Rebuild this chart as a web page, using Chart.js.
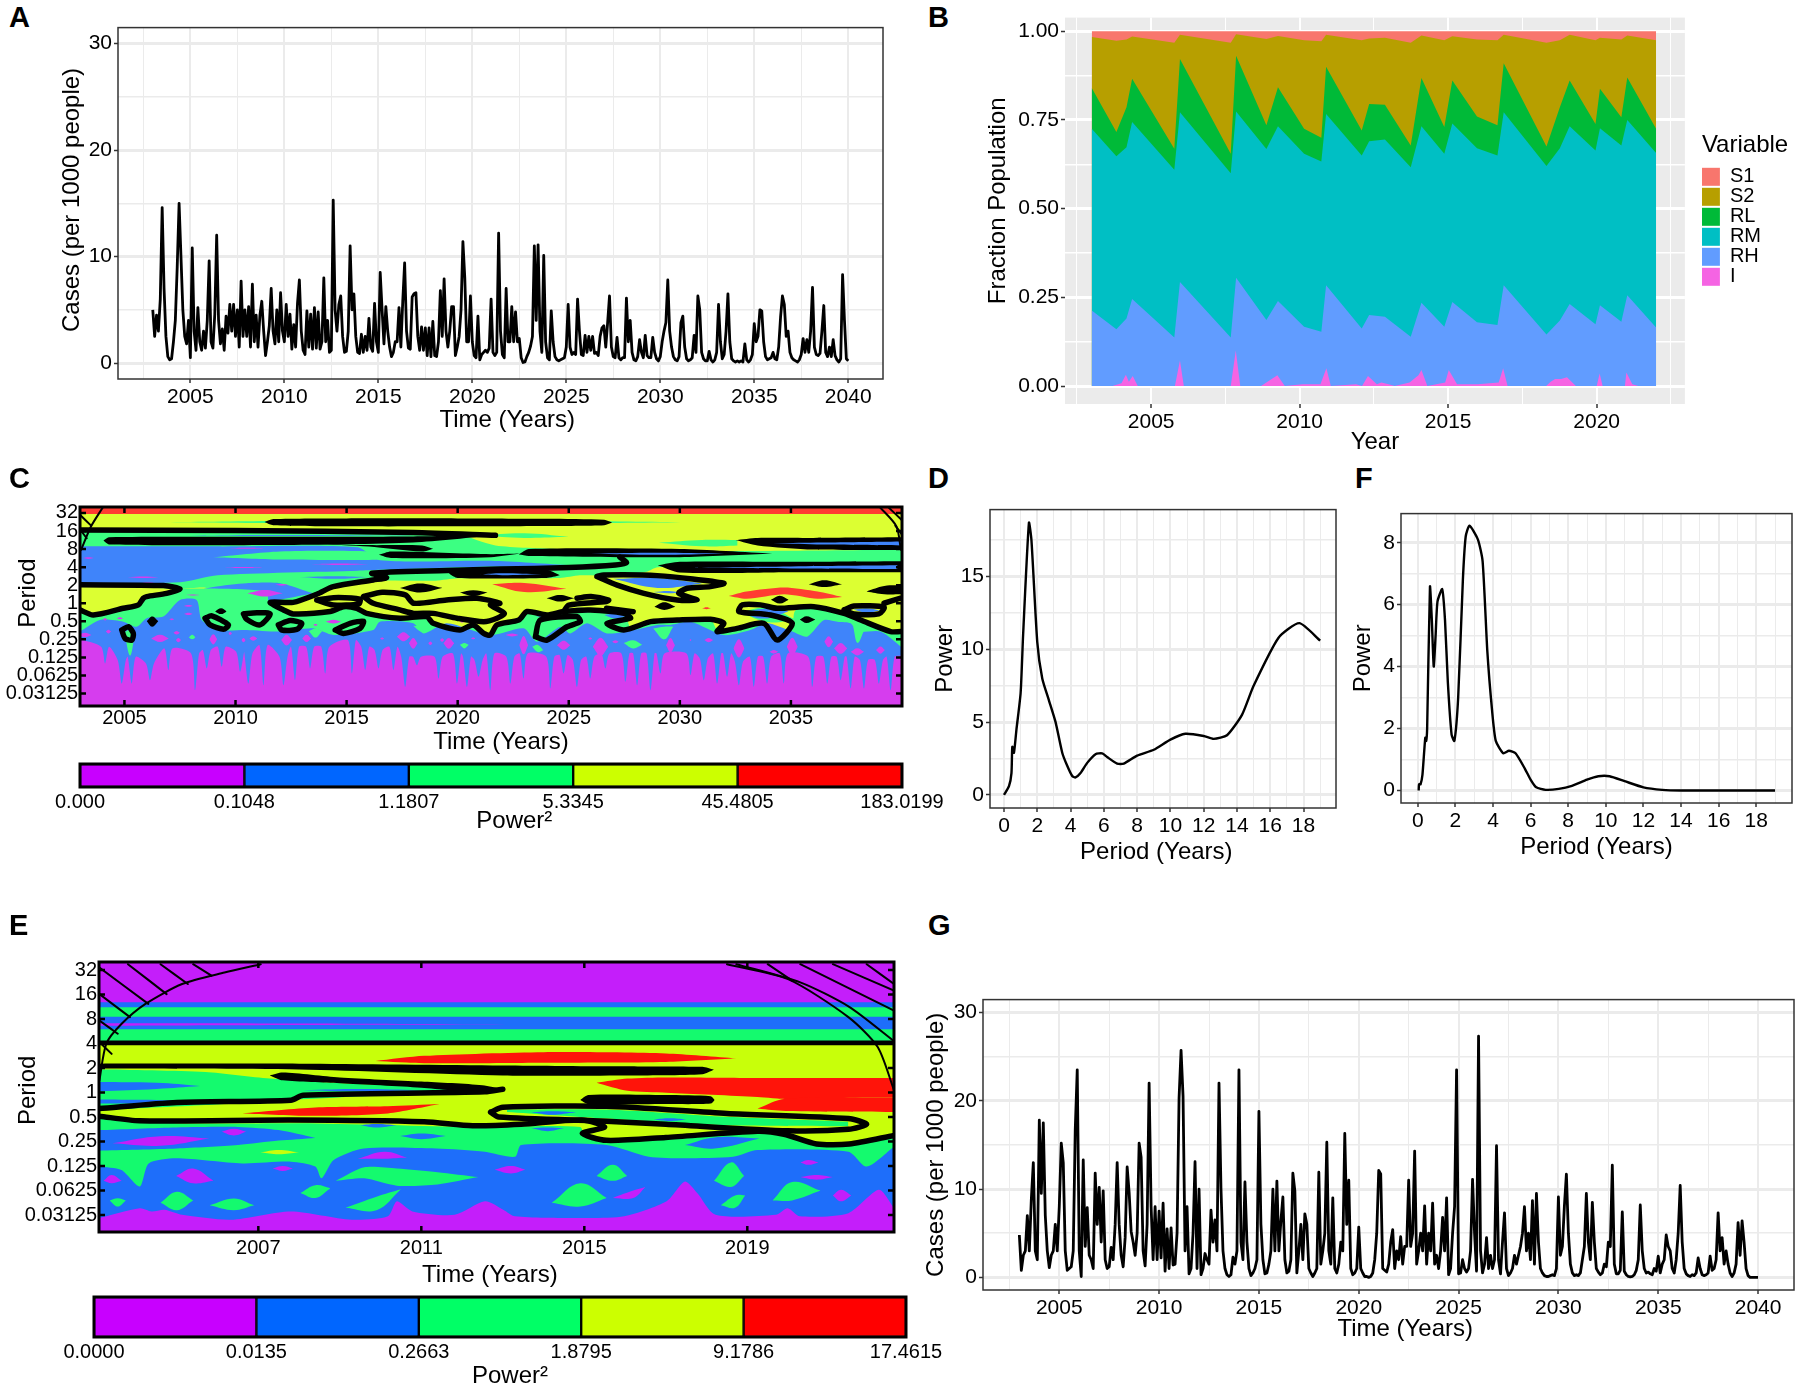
<!DOCTYPE html>
<html>
<head>
<meta charset="utf-8">
<title>Cases and wavelet power</title>
<script src="https://cdn.jsdelivr.net/npm/chart.js@4/dist/chart.umd.js"></script>
<style>
  html, body { margin: 0; background: #fff; width: 1800px; height: 1387px; overflow: hidden; }
  canvas { position: absolute; }
  .tag { position: absolute; font: 700 29px "Liberation Sans", sans-serif; line-height: 30px; color: #000; }
</style>
</head>
<body>
<script>
// one row per year, samples every 0.1 year
const casesA = [
  [5,2.5,4.5,3,6,14.6,7,2.5,.6,.3],
  [.4,2,4,9,15,10,5,2.5,1.8,4],
  [.5,10.8,3,1.2,5.2,2,1.2,3,1.4,4],
  [9.6,2,1.4,4.6,12,4,1.8,3.2,1.2,4.4],
  [2.8,5.5,3,5.5,2.5,5,1.5,7.7,2.5,5],
  [2.5,5.3,1.5,7.4,2,4.5,1.5,4.5,5.8,3],
  [.7,2,3.5,7,3,1.8,5,2,6.6,3],
  [2,5.5,2.5,4.6,1.3,3.6,1.5,5.6,7.8,3],
  [1.2,.8,4.9,1.5,4.6,1.3,5.2,1.4,4.8,1.3],
  [2,8,2,4,1,1.2,15.3,5,3,5.5],
  [6.3,2.5,1,1.1,3,11,5,6.5,2.5,1],
  [.9,2.7,1,2.5,1.2,4.2,1.5,1.1,5.6,2],
  [1,8.5,5,1.8,5.3,3,1.5,.6,1,2],
  [2,5.2,1.5,5.8,9.4,3,1.4,1.3,6.2,6.5],
  [6.6,2.5,1.2,3.4,1.2,3.3,.7,3.3,.6,3.9],
  [.7,.6,2,6.8,2.5,7.9,3,1.5,3,5.3],
  [5.3,.7,1.5,2.5,5,11.4,8,2,2,6.3],
  [2,.7,.5,4.4,.3,.8,1,1.2,1,1.4],
  [6,1,.7,1,12.2,3,.8,.5,7,2],
  [2,5.3,2,4.8,2,2.3,.5,.05,.1,.6],
  [1,1.6,2.5,11,4,11.1,3,1,10.1,2],
  [.5,.3,4.9,2,.6,.3,.2,.3,.4,.5],
  [1.5,5.5,1.5,.8,1,.8,6,3,.8,.7],
  [2.6,1,2.5,1.2,2.5,.9,1,.7,2.5,3.3],
  [3.5,1.5,3.8,6.3,1.5,.6,.5,2.4,.5,.3],
  [.5,.5,6.1,2,4,1,.3,.2,.6,2.2],
  [1,.5,2.6,.7,.5,.5,2.4,1,.4,.2],
  [.6,2,3,3.8,7.8,3,1.5,.6,.3,.2],
  [.6,3.8,4.4,1.5,.4,.2,.3,.5,2.6,1],
  [6.3,5,1,.4,.2,.2,1.1,.3,.1,.3],
  [1,5.5,2,.4,.8,3,6.5,2,.4,.2],
  [.1,.2,.1,.2,.1,1.8,.3,.1,.3,.8],
  [3.7,2,2.5,5,4.9,2,.6,.3,.4,.5],
  [1,.4,.3,1.5,4.3,6.3,5.5,2.5,3,1],
  [.5,.3,.2,.1,.3,.8,2.3,1,2.2,1],
  [3,7.1,1.5,.8,.7,.9,3,5.4,1,.6],
  [1.5,.6,2.2,.7,.3,.1,.4,8.3,4,.4],
  [.2]
];
const casesG = [
  [4.8,.8,2.5,3,7,3,8.8,13,3,2],
  [17.8,9.5,17.5,7,3,1.1,2.5,3,6,3],
  [8,15.2,13,3,.8,1,1.2,3,16.7,23.5],
  [3,.1,13.3,3.5,7.9,2.5,2,1,11.8,6],
  [10.2,4,9.8,2,1,1.2,3.4,2,6,13],
  [6,2.5,1.2,4.5,12.5,9.6,5.2,4,2.5,5],
  [15.2,13.6,3,1.3,6,22,8,2,8,2],
  [7.5,2.2,8.4,.7,5.5,1,5.6,1.4,1.5,5],
  [20.3,25.7,20.5,3,8,.4,1,5,13.1,1],
  [10,.3,1,2.7,2,1.5,7.6,4,6.5,3],
  [22,10,3,1,.3,.1,.3,2.3,1.5,3],
  [23.5,4,2,10.8,4,1,.2,.5,1,2],
  [18.8,6,2,.4,.5,1.5,3,10,3,10.9],
  [3,6.4,9.1,2,.5,.7,2,11.8,9.8,.5],
  [3,6,2,7.2,6,1,.5,.1,.5,1],
  [11.9,1.5,3,5,15.3,3,1.5,9,1,.5],
  [1.5,4,3,16.3,6,11,1,.3,.5,1],
  [5.7,1,.5,.1,.1,0,.1,.5,2,5],
  [12.1,11.7,1,.8,.6,1.5,4,5.4,1,3],
  [2,4.6,1.5,3.5,3.5,11,3.5,5,14.3,1.5],
  [3,5,3,8.1,1.5,5,3,8.4,1.5,2.5],
  [1,3,6.8,3,9,.3,1,5,8,23.5],
  [.4,.5,2,1,.6,1,3,11.1,5,.7],
  [27.3,3,.5,1.5,4.5,1,2.5,1,2,14.9],
  [2,.4,4,7.3,1,.2,.5,1,2.5,1.5],
  [2.5,3.5,5,8,3,5,2,8.7,1.5,9.5],
  [4,1,.5,.2,.1,.1,.2,.3,.2,1],
  [9.1,2.5,3.5,8.1,11.7,5,1.5,.5,.2,.3],
  [.2,.5,2,3.5,9.5,4,2,8.5,4,1],
  [.6,.3,.5,1.5,1.2,4,3.5,12.7,1.5,.4],
  [.4,.8,7.4,.7,.3,.1,.05,.1,.3,.8],
  [2,8.2,3,1,.5,.6,.4,.3,1,.7],
  [2.4,.5,1.5,2,4.8,3.5,3,1,.5,2],
  [5,10.4,4,1,.4,.2,.1,.3,.2,.5],
  [2.2,1,.3,.2,.3,.5,2.4,.8,1,2],
  [7.3,3,4.5,1.5,3,1.5,.5,.1,.5,1.5],
  [6.2,2.5,6.4,4,1,.2,0,0,0,0],
  [0]
];

// panel B, top edge of each stacked band
const fractionYears = [2003,2003.83,2004.17,2004.36,2005.78,2005.97,2007.68,2007.86,2008.88,2009.27,2010.15,2010.73,2010.89,2012.09,2012.34,2012.87,2013.74,2014.1,2014.87,2015.14,2015.97,2016.66,2016.87,2018.31,2018.76,2019.09,2019.96,2020.11,2020.83,2021.03,2022];
const s1Top = fractionYears.map(() => 1);
const s2Top = [.984,.973,.977,.985,.968,.99,.968,.992,.978,.987,.975,.972,.99,.975,.98,.982,.968,.988,.975,.986,.977,.975,.99,.968,.975,.99,.975,.982,.977,.988,.975];
const rlTop = [.84,.716,.786,.866,.669,.922,.655,.931,.735,.842,.725,.70,.90,.72,.795,.793,.678,.868,.73,.861,.76,.735,.91,.675,.786,.861,.739,.838,.758,.87,.725];
const rmTop = [.725,.648,.673,.744,.61,.772,.60,.774,.668,.732,.655,.633,.767,.65,.69,.695,.617,.732,.655,.74,.67,.65,.772,.62,.67,.732,.664,.727,.678,.75,.657];
const rhTop = [.213,.16,.19,.245,.137,.293,.137,.305,.186,.24,.167,.153,.284,.162,.20,.195,.139,.235,.167,.237,.18,.172,.284,.145,.185,.231,.174,.228,.181,.256,.165];
const iYears = [2003,2003.7,2004,2004.15,2004.25,2004.38,2004.55,2005.8,2005.97,2006.1,2007.68,2007.85,2008,2008.7,2009.25,2009.5,2010.1,2010.7,2010.9,2011.05,2011.9,2012.1,2012.3,2012.6,2012.75,2013,2013.2,2013.7,2014,2014.1,2014.3,2014.9,2015.02,2015.3,2016,2016.7,2016.85,2017,2018.3,2018.45,2018.6,2018.8,2019,2019.3,2020,2020.1,2020.2,2020.95,2021,2021.2,2021.4,2022];
const iTop = [0,0,.008,.032,.012,.028,0,0,.072,0,0,.1,0,0,.03,0,.005,.005,.05,0,.005,0,.028,.005,.01,.005,0,.01,.03,.045,0,.01,.045,.005,.005,.01,.05,0,0,.012,.02,.02,.025,0,0,.035,0,0,.038,.005,0,0];
const fractionNames = ['I','RH','RM','RL','S2','S1'];

// panels D and F
const periodD = [0,.3,.45,.5,.6,.75,1,1.15,1.5,1.65,2,2.3,2.7,3.1,3.5,3.8,4.1,4.3,4.6,5,5.5,5.9,6.2,6.8,7.2,8,9,10,10.9,12,12.6,13.4,14.3,15,16.5,17.75,19];
const powerD = [0,.6,1.5,3.3,2.9,4.5,7,11,18.7,17.5,10.5,8,6.5,5,2.9,2,1.3,1.2,1.5,2.2,2.8,2.85,2.6,2.15,2.15,2.7,3.1,3.8,4.2,4.05,3.85,4.1,5.5,7.5,10.8,11.8,10.6];
const periodF = [.05,.07,.15,.25,.4,.45,.5,.65,.75,.85,.95,1.05,1.3,1.45,1.6,1.8,1.95,2.15,2.4,2.55,2.75,3.2,3.45,3.7,3.95,4.15,4.55,4.85,5.2,5.7,6,6.3,6.8,7.5,8.2,9,9.6,10.2,11,12,13,14,19];
const powerF = [0,.2,.2,.5,1.7,1.6,2,6.58,5.5,4,5,6.1,6.5,5.5,3.5,1.8,1.6,3,6.8,8.2,8.55,8.1,7.4,4.5,2.6,1.6,1.2,1.28,1.2,.7,.35,.1,.02,.05,.15,.35,.46,.46,.3,.1,.02,0,0];

// wavelet panels: y values are log2(period)
const periodLabels = ['0.03125','0.0625','0.125','0.25','0.5','1','2','4','8','16','32'];
const yearTicksC = [2005,2010,2015,2020,2025,2030,2035];
const yearTicksE = [2007,2011,2015,2019];
const legendC = ['0.000','0.1048','1.1807','5.3345','45.4805','183.0199'];
const legendE = ['0.0000','0.0135','0.2663','1.8795','9.1786','17.4615'];

// [power level 0-4, years, upper edge, lower edge (none = down to the bottom)], in paint order
const bandsC = [
  [4,[2003,2040],[5.33,5.33]],
  [3,[2003,2040],[4.94,4.94]],
  [2,[2006.8,2012,2025,2030.3],[4.48,4.55,4.55,4.48],[4.48,4.42,4.42,4.48]],
  [2,[2003,2007.5,2008.7,2011.4,2012.6,2013.66,2014.4,2015.5,2016.2,2019,2020,2021.7,2024.6,2025.5,2027,2028.5,2029,2034,2040],
     [4.05,4.04,4.03,4.02,4,3.98,3.96,3.95,3.93,3.88,3.83,3.2,3,2.95,2.9,2.9,2.9,2.9,2.96],
     [.98,.8,.85,.05,.05,.5,.92,1.1,1.25,1.25,1.38,1.4,1.4,1.55,1.55,1.75,2,2,2]],
  [2,[2021,2023,2025],[3.75,3.88,3.68],[3.75,3.62,3.68]],
  [2,[2029.05,2031,2032.6],[3.35,3.5,3.5],[3.35,3.15,3.2]],
  [1,[2003,2007.5,2009.2,2015.5,2016.5,2021.5,2025.1],[3.15,3.15,3.15,3.1,2.38,2.35,2.1],[1.1,1.16,1.55,1.8,1.85,2.03,2.05]],
  [2,[2009,2012,2016,2019],[2.55,2.87,2.87,2.5],[2.55,2.42,2.4,2.5]],
  [1,[2012.9,2014.5,2016],[1.45,1.5,1.45],[1.45,1.35,1.45]],
  [1,[2006,2012,2019],[3.76,3.78,3.76],[3.76,3.72,3.76]],
  [1,[2007.3,2009,2010.5,2012,2013.5],[.45,.9,1.11,1.11,.55],[.45,.1,0,.2,.55]],
  [1,[2027,2029,2031],[1.35,1.4,1.1],[1.35,.85,1.1]],
  [1,[2028.8,2029.5,2030],[.62,.68,.6],[.62,.55,.6]],
  [4,[2021.55,2023,2024.9],[1.05,1.12,.8],[1.05,.62,.8]],
  [4,[2032.2,2033,2034.7,2036.2,2037.3],[.4,.65,.87,.65,.35],[.4,.25,.5,.25,.35]],
  [4,[2031,2031.2,2031.4],[-.28,-.22,-.28],[-.28,-.33,-.28]],
  [2,[2003,2003.6,2004.95,2005.63,2005.85,2006.9,2007.5,2011.4,2011.5,2012.16,2012.6,2014.26,2014.86,2015.46,2015.9,2017.4,2018.6,2018.9,2020.1,2020.7,2021.17,2021.47,2021.77,2022.75,2023.12,2024.02,2024.77,2025.97,2027.5,2027.8,2028.68,2029.88,2031.38,2031.7,2032.58,2033.78,2034.38,2035.06,2035.2,2036.03,2037.39,2038.14,2039.49,2040],
     [-.4,-.65,-.28,-.09,.28,.55,.8,.65,0,-.37,-.59,-.46,-.19,-.28,-.56,-.83,-.74,-1.11,-1.48,-1.2,-1.67,-1.76,-1.2,-.93,-.46,-.65,-.46,-.37,-.56,-1.4,-1.02,-.93,-.89,-1.5,-1.39,-1.11,-2.04,-1.11,-.4,-.19,-.56,-.93,-1.57,-1.57]],
  [2,[2032.7,2034,2035.2],[-.5,-.25,-.9],[-.5,-1.05,-.9]],
  [1,[2032.8,2033.8,2034.9],[-.55,-.3,-.45],[-.55,-.85,-.45]],
  [1,[2037.8,2038.4,2039],[-.35,-.28,-.4],[-.35,-.52,-.4]],
  [1,[2023.5,2024,2024.4],[-.7,-.65,-.75],[-.7,-.8,-.75]],
  [1,[2025,2025.6,2026.2],[-.3,-.25,-.4],[-.3,-.5,-.4]],
  [1,[2026.6,2027.1,2027.6],[-.65,-.55,-.7],[-.65,-.85,-.7]],
  [1,[2003,2003.9,2004.95,2005.55,2006,2006.75,2007.5,2008.25,2008.48,2009.3,2010.5,2012,2013.5,2014.41,2016.2,2016.5,2018,2018.47,2019.5,2021.47,2022.97,2023.57,2024.62,2025.07,2025.82,2026.72,2027.93,2028.98,2029.58,2030.48,2031.98,2033.18,2033.93,2035.06,2035.73,2036.49,2037.09,2037.69,2037.99,2039.03,2040],
     [-1.57,-.93,-1.02,-1.3,-.83,-.74,.18,.18,-.93,-1.48,-1.48,-1.57,-1.39,-1.76,-1.48,-1.02,-1.11,-1.67,-1.11,-1.76,-1.39,-2.13,-1.3,-1.67,-1.11,-1.67,-1.48,-1.2,-1.2,-1.02,-1.76,-1.48,-1.11,-1.57,-1.85,-.93,-1.02,-1.11,-1.57,-1.57,-2.45]],
  [2,[2008.7,2009.1,2009.6],[-.9,-.8,-1.25],[-.9,-1.3,-1.25]],
  [2,[2005,2005.25,2005.45],[-1.6,-1.5,-1.9],[-1.6,-2.9,-1.9]],
  [2,[2010.3,2011,2011.5],[-.65,-.6,-.6],[-.65,-1.15,-.6]],
  [2,[2012,2012.5,2012.95],[-1.2,-1,-1.15],[-1.2,-1.45,-1.15]],
  [2,[2014.5,2015.2,2015.8],[-1.5,-1.15,-1],[-1.5,-1.6,-1]],
  [2,[2013.3,2013.6,2013.9],[-1.55,-1.4,-1.55],[-1.55,-1.9,-1.55]],
  [2,[2027.47,2027.9,2028.3],[-2.2,-2.05,-2.3],[-2.2,-2.5,-2.3]],
  [2,[2023.35,2023.6,2023.85],[-2.4,-2.3,-2.6],[-2.4,-2.7,-2.6]],
  [2,[2037.8,2038,2038.3],[-1.3,-1.2,-1.5],[-1.3,-2.2,-1.5]],
  [2,[2028.8,2029.3,2029.7],[-1.4,-1.3,-1.3],[-1.4,-2,-1.3]],
  [2,[2018,2018.3,2018.5],[-1.25,-1.3,-1.6],[-1.25,-1.55,-1.6]],
  [2,[2020.1,2020.3,2020.5],[-2.3,-2.2,-2.3],[-2.3,-2.5,-2.3]],
  [2,[2007.9,2008.05,2008.2],[-1.9,-1.75,-1.9],[-1.9,-2,-1.9]]
];
// blue fingers running down into the lowest band: year, tip, level beside the tip
const fingerYears = [2004.13,2004.88,2005.33,2006.15,2006.98,2008.18,2008.71,2009.38,2010.21,2010.58,2011.26,2012.16,2012.68,2013.36,2014.04,2015.24,2015.84,2016.44,2017.11,2017.64,2018.17,2019.14,2019.97,2020.42,2020.94,2021.47,2022.37,2022.97,2024.17,2024.77,2025.37,2025.97,2026.65,2027.55,2028.08,2028.68,2029.13,2030.48,2031.08,2031.68,2032.13,2032.66,2033.33,2033.93,2034.68,2035.96,2036.64,2037.24,2037.69,2038.29,2038.96,2039.49];
const fingerTips = [-3.33,-4.45,-4.45,-4.26,-3.7,-4.82,-3.61,-3.52,-3.8,-4.45,-4.54,-4.54,-4.26,-3.61,-3.89,-3.89,-3.7,-3.61,-3.7,-4.63,-3.43,-4.17,-4.45,-4.63,-4.07,-4.82,-4.45,-4.17,-4.72,-3.89,-4.63,-4.17,-3.61,-4.35,-4.54,-4.82,-3.89,-3.98,-4.26,-4.45,-4.07,-4.54,-4.63,-4.45,-4.45,-4.63,-4.45,-4.26,-4.72,-4.72,-4.45,-4.82];
const fingerLevels = [-2.41,-3.15,-2.96,-3.33,-2.5,-2.78,-2.59,-2.41,-2.69,-2.78,-2.32,-2.96,-2.41,-2.41,-2.41,-2.04,-2.41,-2.59,-2.41,-2.96,-2.96,-2.96,-2.78,-2.96,-3.15,-2.78,-2.96,-2.78,-2.96,-2.87,-3.15,-2.96,-2.78,-2.78,-2.78,-2.78,-2.78,-2.78,-3.06,-2.78,-2.78,-3.24,-2.96,-2.96,-2.78,-2.96,-2.96,-2.96,-2.96,-3.15,-3.15,-2.96];
// small patches of the lowest band: year, log2 period, half width, half height
const spotsC = [
  [2003.22,-1.76,.3,.12],[2004.8,-.83,.15,.06],[2004.13,-.89,.1,.06],[2004.28,-1.57,.12,.1],[2007.88,-.15,.2,.05],[2007.88,-.59,.2,.06],
  [2007.13,-.89,.12,.05],[2006.6,-1.95,.4,.2],[2007.35,-1.63,.15,.1],[2007.43,-2.04,.12,.12],[2009,-2,.18,.28],[2010.8,-1.95,.18,.12],
  [2010.36,-2.04,.1,.12],[2009.76,-1.67,.08,.08],[2012.3,-2.04,.25,.3],[2013.2,-1.95,.2,.2],[2014.41,-1.02,.35,.1],[2013.6,-1.2,.1,.05],
  [2016.6,-1.95,.1,.06],[2017.56,-1.85,.3,.25],[2018,-2.22,.2,.3],[2018.77,-2.22,.1,.1],[2019.6,-2.22,.25,.3],[2019.3,-2.04,.1,.1],
  [2020.7,-1.95,.1,.05],[2020.2,-1.02,.1,.05],[2022.45,-1.76,.3,.08],[2022.97,-2.32,.2,.5],[2024.77,-2.32,.3,.25],[2026.43,-2.41,.35,.5],
  [2025.97,-1.95,.1,.06],[2027.1,-2.13,.15,.08],[2029.58,-2.32,.2,.4],[2030.48,-2.04,.05,.05],[2031.3,-2.04,.2,.12],[2032.66,-2.5,.25,.5],
  [2035.06,-2.41,.25,.5],[2036.7,-2.13,.2,.3],[2037.24,-2.5,.3,.3],[2039.03,-2.59,.2,.2],[2037.99,-2.69,.3,.2],[2034.23,-2.69,.2,.1],
  [2010.5,3.05,.9,.03],[2010.36,1.98,1,.03],[2014.7,2.16,1.3,.04],[2005.85,1.44,.7,.04],[2006.08,1.11,.4,.04],[2003.38,2.5,.25,.05],
  [2012.08,1.02,.3,.05],[2011.33,.55,.8,.18],[2008.08,.46,.3,.03]
];
// black filled lenses of the significance contours, [years, upper, lower]
const blobsC = [
  [[2011.3,2011.7,2015,2020,2024,2026.6,2026.95],[4.5,4.66,4.7,4.7,4.68,4.62,4.47],[4.5,4.32,4.26,4.26,4.28,4.32,4.47]],
  [[2004.05,2004.3,2012,2018,2021.7],[3.47,3.66,3.68,3.7,3.76],[3.47,3.26,3.22,3.36,3.76]],
  [[2013.5,2016,2018.4,2018.9],[3.3,3.22,3.2,3.02],[3.3,3.14,2.86,3.02]],
  [[2016.44,2017,2021.5,2022.8],[2.68,2.87,2.72,2.75],[2.68,2.5,2.55,2.75]],
  [[2022.75,2023.2,2030,2034.16],[2.7,3,3,2.75],[2.7,2.62,2.55,2.75]],
  [[2019.6,2020,2024,2024.6],[1.65,1.8,1.85,1.55],[1.65,1.4,1.4,1.55]],
  [[2029,2030,2035,2040],[2.1,2.3,2.3,2.33],[2.1,1.7,1.72,1.72]],
  [[2032.5,2033.5,2036,2040],[3.5,3.62,3.62,3.65],[3.5,3.2,2.97,2.95]],
  [[2006,2006.25,2006.53],[-1,-.74,-1],[-1,-1.3,-1]],
  [[2009.08,2009.35,2009.6],[-.45,-.28,-.45],[-.45,-.6,-.45]],
  [[2035.8,2036.5,2037.3],[1.05,1.28,1.05],[1.05,.9,1.05]],
  [[2038.4,2039.2,2040],[.65,.95,1],[.65,.5,.5]],
  [[2017.4,2018.3,2019.3],[.85,1.1,.85],[.85,.6,.85]],
  [[2020.1,2020.7,2021.35],[.6,.72,.6],[.6,.4,.6]],
  [[2024,2024.6,2025.25],[.28,.46,.28],[.28,.1,.28]],
  [[2034.1,2034.5,2034.9],[.2,.42,.2],[.2,-.02,.2]],
  [[2028.85,2029.3,2029.8],[-.2,.05,-.2],[-.2,-.37,-.2]],
  [[2035.4,2035.7,2036.1],[-.9,-.72,-.9],[-.9,-1.1,-.9]]
];
// thin blue streaks left inside the black lenses
const streaksC = [
  [1,[2034.2,2036.5,2040],[3.32,3.36,3.42],[3.32,3.25,3.2]],
  [1,[2026,2029,2032],[2.74,2.79,2.74],[2.74,2.68,2.74]],
  [1,[2030.3,2035,2039.8],[1.98,2.04,2.1],[1.98,1.93,1.9]],
  [1,[2021,2022,2023.8],[1.6,1.66,1.6],[1.6,1.55,1.6]]
];
// contour polylines, [years, log2 period]
const contoursC = [
  [[2003,2010,2018,2021.7],[4.05,4.03,3.92,3.76]],
  [[2003,2006.75,2007.5,2006.9,2006,2005.85,2005.63,2004.95,2003.6,2003],[1.02,.98,.8,.55,.37,.28,-.09,-.28,-.65,-.37]],
  [[2027.3,2027.6,2027.1,2025,2021.9,2019.5,2016.14,2016.8,2016.2,2014.4,2013.66,2012.6,2011.56,2012.16,2012.6,2014.26,2014.86,2015.46,2015.9,2017.4,2018.6,2018.9,2020.1,2020.7,2021.17,2021.47,2021.77,2022.75,2023.12,2024.02,2024.77,2025.97,2027.48,2027.78,2026.72,2027.48,2028.68,2029.88,2031.38,2031.98,2031.68,2032.58,2033.78,2034.38,2035.06,2034.08,2032.66,2032.81,2033.63,2034.38,2036.03,2037.39,2038.14,2039.49,2039.94],
   [2.55,2.25,2.12,1.98,1.89,1.81,1.66,1.42,1.29,.92,.5,.05,.05,-.37,-.59,-.46,-.19,-.28,-.56,-.83,-.74,-1.11,-1.48,-1.2,-1.67,-1.76,-1.2,-.93,-.46,-.65,-.46,-.37,-.56,-.83,-1.11,-1.48,-1.02,-.93,-.89,-1.11,-1.57,-1.39,-1.11,-2.04,-1.11,-.65,-.46,-.09,-.09,-.28,-.19,-.56,-.93,-1.57,-1.57]],
  [[2013.66,2014.41,2015.6,2015.54,2014.41,2013.66],[.18,.31,.22,-.04,-.09,.18]],
  [[2015.76,2016.6,2017.64,2018.02,2019.5,2020.87,2021.9,2021.47,2022.1,2021.77,2021.17,2019.97,2018.9,2018.02,2017.4,2016.2,2015.76],[.37,.61,.46,0,.18,.28,0,-.09,-.56,-.83,-1.02,-.83,-.56,-.56,-.37,0,.37]],
  [[2023.5,2024.02,2024.92,2025.52,2025.37,2023.72,2023.5],[-1.85,-2.04,-1.3,-1.02,-.74,-.93,-1.85]],
  [[2024.77,2025,2026.7,2026.8,2026,2025.37],[-.47,-.1,.09,.18,.37,.28]],
  [[2026.7,2027.9],[-.28,-.47]],
  [[2026.27,2026.57,2028.98,2031.98,2031.38,2030.33,2029.95,2030.78,2029.88,2028.38,2027.18,2026.27],[1.48,1.57,1.53,1.11,.92,.83,.55,.18,.18,.55,1,1.48]],
  [[2037.39,2037.84,2039.19,2038.96,2037.84,2037.39],[-.37,-.15,-.22,-.59,-.59,-.37]],
  [[2039.19,2039.94],[0,.28]],
  [[2004.88,2005.18,2005.4,2005.33,2005.03,2004.88],[-1.48,-1.3,-1.67,-2.04,-1.95,-1.48]],
  [[2008.63,2008.93,2009.68,2009.46,2008.86,2008.63],[-.83,-.7,-1.2,-1.44,-1.2,-.83]],
  [[2010.36,2010.96,2011.56,2011.1,2010.5,2010.36],[-.59,-.52,-.59,-1.2,-.89,-.59]],
  [[2011.93,2012.46,2012.98,2012.76,2012.08,2011.93],[-1.2,-.96,-1.11,-1.45,-1.48,-1.2]],
  [[2014.49,2015.16,2015.76,2015.61,2014.86,2014.49],[-1.48,-1.11,-1,-1.39,-1.67,-1.48]]
];
const thinLinesC = [
  [[2003.05,2003.5,2004.04],[2.96,4.26,5.33]],
  [[2039,2039.75,2039.95],[5.33,4.26,2.96]],
  [[2003,2003.5],[4.9,4.3]],
  [[2003,2003.3],[4.1,3.6]],
  [[2039.4,2040],[5.3,4.6]],
  [[2039.7,2040],[4.3,3.8]]
];

const bandsE = [
  [0,[2003.09,2022.6],[5.3,5.3]],
  [1,[2003.09,2022.6],[3.69,3.69]],
  [2,[2003.09,2022.6],[3.48,3.48]],
  [1,[2003.09,2022.6],[3.1,3.1]],
  [0,[2003.09,2008,2013.5],[2.83,2.82,2.78],[2.73,2.76,2.78]],
  [2,[2003.09,2022.6],[2.59,2.59]],
  [3,[2003.09,2022.6],[2.07,2.07]],
  [4,[2009.88,2011.07,2014,2017,2018.73],[1.29,1.5,1.65,1.6,1.4],[1.29,1.2,1.22,1.25,1.4]],
  [2,[2003.09,2005.7,2007.28,2009.14,2011.07,2013.01],[.95,.84,.57,.37,.26,.16],[-.72,-.51,-.35,-.18,-.04,.16]],
  [1,[2003.09,2004.5,2005.57],[.43,.4,.27],[.05,.15,.27]],
  [1,[2003.09,2004.5,2005.85],[-.28,-.3,-.36],[-.45,-.44,-.36]],
  [1,[2008.1,2009.5,2011],[.1,.15,.1],[.1,.05,.1]],
  [4,[2006.61,2008.4,2010.18,2011.45],[-.85,-.61,-.56,-.47],[-.85,-.95,-.85,-.47]],
  [4,[2015.3,2016.06,2017.02,2019.25,2020,2021.5,2022.6],[.4,.57,.62,.6,.6,.6,.6],[.4,.07,-.01,-.18,-.27,-.2,-.2]],
  [4,[2019.25,2019.95,2022.6],[-.65,-.25,-.2],[-.65,-.75,-.79]],
  [2,[2013.1,2015.54,2018.5,2021.48],[-.69,-.69,-.99,-1.19],[-.79,-1.06,-1.33,-1.37]],
  [1,[2013.7,2014.2,2014.8],[-.8,-.76,-.8],[-.8,-.9,-.8]],
  [1,[2016.7,2017.1,2017.5],[-1.1,-1.05,-1.1],[-1.1,-1.16,-1.1]],
  [2,[2003.09,2005,2008,2012.3,2014.9,2015,2015.55,2017,2019.25,2020,2020.6,2021.5,2022.6],[-.99,-1.25,-1.25,-1.4,-1.4,-1.75,-2,-1.83,-1.55,-1.72,-2.1,-2.1,-1.67]],
  [1,[2003.09,2005,2006.5,2007.5,2008.4],[-1.53,-1.42,-1.4,-1.53,-1.85],[-2.37,-2.28,-2.14,-1.96,-1.85]],
  [0,[2003.42,2004.6,2005.8],[-2.07,-1.78,-1.87],[-2.07,-2.17,-1.87]],
  [0,[2006.1,2006.4,2006.7],[-1.6,-1.48,-1.6],[-1.6,-1.75,-1.6]],
  [1,[2010.48,2011,2011.6],[-1.77,-1.67,-1.77],[-1.77,-1.9,-1.77]],
  [1,[2009.5,2009.9,2010.4],[-1.33,-1.28,-1.33],[-1.33,-1.42,-1.33]],
  [1,[2013.7,2014.1,2014.5],[-1.45,-1.42,-1.45],[-1.45,-1.58,-1.45]],
  [1,[2017.47,2018.2,2019.3],[-2.14,-1.83,-1.87],[-2.14,-2.28,-1.87]],
  [3,[2007.05,2007.5,2008],[-2.44,-2.34,-2.44],[-2.44,-2.52,-2.44]],
  [1,[2003.09,2003.64,2004.09,2004.31,2004.98,2006.61,2007.8,2008.4,2008.55,2008.85,2009.59,2011.37,2012.56,2013.3,2013.45,2015.54,2016.58,2017.47,2018.65,2019.25,2021.48,2021.93,2022.6],
     [-3.02,-3.16,-3.83,-2.89,-2.68,-2.89,-2.82,-3.02,-3.5,-2.75,-2.28,-2.28,-2.41,-2.62,-2.14,-2.14,-2.62,-2.68,-2.62,-2.34,-2.41,-3.02,-2.21]],
  [2,[2003.35,2003.55,2003.75],[-4.4,-4.31,-4.4],[-4.4,-4.65,-4.4]],
  [2,[2004.6,2005,2005.4],[-4.5,-4.05,-4.4],[-4.5,-4.8,-4.4]],
  [2,[2005.8,2006.4,2006.9],[-4.6,-4.32,-4.6],[-4.6,-4.8,-4.6]],
  [2,[2008.03,2008.4,2008.77],[-4.1,-3.78,-3.9],[-4.1,-4.3,-3.9]],
  [2,[2009.14,2009.9,2010.5],[-4.7,-4.25,-3.95],[-4.7,-4.8,-3.95]],
  [2,[2008.9,2009.6,2010.4,2011.4,2012.4],[-3.6,-3.05,-3.1,-3.25,-3.45],[-3.6,-3.5,-3.8,-3.75,-3.45]],
  [2,[2014.2,2014.9,2015.55],[-4.5,-3.7,-4.3],[-4.5,-4.65,-4.3]],
  [2,[2015.3,2015.7,2016.05],[-3.4,-2.95,-3.4],[-3.4,-3.6,-3.4]],
  [2,[2018.18,2018.6,2018.92],[-3.6,-2.85,-3.4],[-3.6,-3.85,-3.4]],
  [2,[2018.35,2018.7,2018.95],[-4.6,-4.2,-4.2],[-4.6,-4.7,-4.2]],
  [2,[2019.62,2020.1,2020.8],[-4.4,-3.65,-4],[-4.4,-4.4,-4]],
  [0,[2003.2,2003.4,2003.65],[-3.6,-3.36,-3.6],[-3.6,-3.7,-3.6]],
  [0,[2004.98,2005.4,2005.9],[-3.4,-3.1,-3.6],[-3.4,-3.7,-3.6]],
  [0,[2009.44,2010.1,2010.65],[-2.7,-2.41,-2.65],[-2.7,-2.7,-2.65]],
  [0,[2012.8,2013.2,2013.55],[-3.15,-3,-3.15],[-3.15,-3.3,-3.15]],
  [0,[2015.7,2016.2,2016.5],[-4.3,-4,-3.85],[-4.3,-4.3,-3.85]],
  [0,[2021.1,2021.3,2021.55],[-4.2,-3.97,-4.2],[-4.2,-4.44,-4.2]],
  [0,[2020.3,2020.7,2021.1],[-3.45,-3.36,-3.45],[-3.45,-3.56,-3.45]],
  [0,[2020.3,2020.5,2020.75],[-2.85,-2.75,-2.85],[-2.85,-2.95,-2.85]],
  [0,[2007.35,2007.6,2007.85],[-3.1,-3,-3.1],[-3.1,-3.2,-3.1]],
  [0,[2003.09,2004.09,2004.38,2004.7,2005.13,2006.32,2007.8,2009.29,2010.18,2010.4,2010.78,2011.82,2012.56,2013.01,2013.3,2014.79,2015.98,2017.02,2017.47,2017.77,2018.22,2019.7,2019.99,2020.29,2021.48,2022.23,2022.6],
     [-5.12,-4.72,-4.85,-4.78,-4.99,-5.19,-4.85,-5.19,-5.05,-4.44,-4.85,-4.99,-4.44,-4.78,-5.05,-5.12,-5.05,-4.44,-3.63,-4.1,-4.99,-4.99,-4.72,-5.05,-4.92,-3.97,-4.72]]
];
const blobsE = [
  [[2003.09,2022.6],[2.13,2.13],[1.93,1.93]],
  [[2003.09,2008,2013,2016,2017.9,2018.18],[1.18,1.18,1.11,1.07,1.05,.93],[.98,.94,.7,.7,.75,.93]],
  [[2007.28,2007.6,2009,2011,2012.5,2013],[.7,.82,.62,.45,.3,.14],[.7,.5,.38,.2,0,.14]],
  [[2014.9,2015.1,2017,2018.1,2018.2],[-.3,-.1,-.1,-.15,-.3],[-.3,-.47,-.47,-.45,-.3]]
];
const contoursE = [
  [[2013,2012.56,2008.1,2007.8,2005,2003.09],[.14,.03,-.11,-.31,-.4,-.65]],
  [[2003.09,2004.09,2007.8,2011.07,2012.26,2013.45,2014.94,2015.5,2014.95,2015.54,2017,2019.25,2019.9,2020.7,2021.5,2022.6],[-.96,-1.15,-1.12,-1.19,-1.35,-1.29,-1.12,-1.4,-1.67,-1.95,-1.83,-1.58,-1.7,-2.1,-2.1,-1.75]],
  [[2012.7,2013,2015.54,2018.5,2021.48,2021.93,2021.48,2020,2017,2015.54,2012.9,2012.7],[-.8,-.6,-.56,-.85,-1.06,-1.29,-1.5,-1.56,-1.29,-1.17,-1,-.8]]
];
const thinLinesE = [
  [[2003.1,2003.27,2003.64,2004.23,2005.13,2006.17,2007.06],[.5,2,2.8,3.62,4.43,4.9,5.24]],
  [[2018.5,2020,2021.48,2022.2,2022.6],[5.24,4.63,3.08,1.86,.1]],
  [[2018.73,2020.3,2021.5,2022.6],[5.24,4.5,3.5,2.1]],
  [[2003.1,2004.3],[5.1,3.62]],
  [[2003.8,2004.75],[5.24,4.02]],
  [[2004.6,2005.27],[5.24,4.43]],
  [[2005.4,2005.85],[5.24,4.77]],
  [[2003.1,2003.85],[4.02,3.08]],
  [[2003.1,2003.55],[2.94,2.4]],
  [[2003.1,2003.4],[2.06,1.58]],
  [[2019.5,2020.1],[5.24,4.57]],
  [[2020.3,2022.6],[5.24,3.35]],
  [[2021.1,2022.6],[5.24,4.16]],
  [[2021.93,2022.6],[5.24,4.43]]
];

const FONT = '"Liberation Sans", Arial, sans-serif';
const TICK_SIZE = 21, WAVE_TICK_SIZE = 20, TITLE_SIZE = 24;
const barColors = ['#C800FF','#0066FF','#00FF66','#CCFF00','#FF0000'];
const colorsC = ['#D63DEE','#3F84FA','#3CFF82','#DCFF32','#FF3C32'];
const colorsE = ['#C41EFA','#1E6EFA','#14FA6E','#C8FF0A','#FF140A'];
const bandColors = ['#F8766D','#B79F00','#00BA38','#00BFC4','#619CFF','#F564E3'];

Chart.defaults.font.family = FONT;
Chart.defaults.color = '#000';
Chart.defaults.animation = false;
Chart.defaults.devicePixelRatio = 1;
Chart.defaults.responsive = false;
Chart.defaults.elements.point.radius = 0;

function points(xs, ys) { return xs.map((x, i) => ({ x, y: ys[i] })); }
function yearSeries(rows) { return rows.flatMap((row, i) => row.map((v, j) => ({ x: 2003 + i + j / 10, y: v }))); }

// the reference titles sit off centre, blanks move them along the axis
function nudge(text, dx) {
  const blanks = ' '.repeat(Math.round(2 * Math.abs(dx) / (TITLE_SIZE * 0.278)));
  return dx > 0 ? blanks + text : text + blanks;
}

function addTag(text, x, y) {
  const d = document.createElement('div');
  d.className = 'tag';
  d.textContent = text;
  d.style.left = x + 'px';
  d.style.top = (y - 15) + 'px';
  document.body.appendChild(d);
}

// canvas around one plot box so that the chart area lands on l,t,r,b
function frame(l, t, r, b, titleX, titleY, right) {
  const half = TITLE_SIZE * 0.6, extra = 10, top = 14;
  const left = Math.round(titleX - half - extra);
  const bottom = Math.round(titleY + half);
  const c = document.createElement('canvas');
  c.width = r + right - left;
  c.height = bottom - (t - top);
  c.style.left = left + 'px';
  c.style.top = (t - top) + 'px';
  document.body.appendChild(c);
  return { canvas: c, yGutter: l - left, xGutter: bottom - b, padding: { top, right, left: 0, bottom: 0 }, extra };
}

const boxPlugin = {
  id: 'boxPlugin',
  afterDraw(chart, args, opts) {
    const { ctx, chartArea: a, scales } = chart;
    ctx.save();
    ctx.strokeStyle = opts.color;
    ctx.lineWidth = opts.width;
    ctx.strokeRect(a.left, a.top, a.width, a.height);
    if (opts.inward) {
      ctx.lineWidth = 2.5;
      ctx.beginPath();
      scales.x.ticks.forEach(tk => {
        const p = scales.x.getPixelForValue(tk.value);
        ctx.moveTo(p, a.top); ctx.lineTo(p, a.top + opts.inward);
        ctx.moveTo(p, a.bottom); ctx.lineTo(p, a.bottom - opts.inward);
      });
      scales.y.ticks.forEach(tk => {
        const p = scales.y.getPixelForValue(tk.value);
        ctx.moveTo(a.left, p); ctx.lineTo(a.left + opts.inward, p);
        ctx.moveTo(a.right, p); ctx.lineTo(a.right - opts.inward, p);
      });
      ctx.stroke();
    }
    ctx.restore();
  }
};

function ruledAxis(f, extent, step, text, gridColor, axisName, label) {
  const major = v => Math.abs(v / (2 * step) - Math.round(v / (2 * step))) < 1e-6;
  const isX = axisName === 'x';
  return {
    type: 'linear', min: extent[0], max: extent[1],
    title: { display: true, text, font: { size: TITLE_SIZE }, padding: { top: f.extra, bottom: 0 } },
    border: { display: false },
    grid: {
      color: gridColor,
      lineWidth: c => major(c.tick.value) ? (isX ? 2 : 3) : (isX ? 1 : 1.5),
      tickColor: c => major(c.tick.value) ? '#333' : 'rgba(0,0,0,0)',
      tickLength: 4, tickWidth: 1.5
    },
    ticks: {
      stepSize: step, includeBounds: false, autoSkip: false, maxRotation: 0, minRotation: 0, padding: 2,
      font: { size: TICK_SIZE },
      callback: v => major(v) ? label(v) : ''
    },
    afterFit(s) { if (isX) s.height = f.xGutter; else s.width = f.yGutter; }
  };
}

function ruledChart(box, xExt, xStep, xTitle, yExt, yStep, series, width, yTitle, tension) {
  const f = frame(...box);
  new Chart(f.canvas, {
    type: 'scatter',
    data: { datasets: [{ data: series, showLine: true, borderColor: '#000', borderWidth: width, tension: tension || 0, borderJoinStyle: 'round', fill: false }] },
    plugins: [boxPlugin],
    options: {
      layout: { padding: f.padding },
      plugins: { legend: { display: false }, tooltip: { enabled: false }, boxPlugin: { color: '#333', width: 1.5 } },
      scales: {
        x: ruledAxis(f, xExt, xStep, xTitle, '#EBEBEB', 'x', v => String(v)),
        y: ruledAxis(f, yExt, yStep, yTitle, '#EBEBEB', 'y', v => String(v))
      }
    }
  });
}

ruledChart([118,27,883,379,72,421,25], [2001.15,2041.85], 2.5, nudge('Time (Years)', 8), [-1.5,31.5], 5, yearSeries(casesA), 2.8, nudge('Cases (per 1000 people)', 2));
ruledChart([983,999,1794,1290,936,1330,6], [2001.18,2041.8], 2.5, nudge('Time (Years)', 17), [-1.43,31.45], 5, yearSeries(casesG), 2.8, 'Cases (per 1000 people)');
ruledChart([990,509,1336,808,945,853,10], [-.84,19.95], 1, nudge('Period (Years)', -7), [-.9,19.6], 2.5, points(periodD, powerD), 2.4, 'Power', .2);
ruledChart([1401,513,1792,803,1363,848,8], [-.89,19.9], 1, 'Period (Years)', [-.405,8.94], 1, points(periodF, powerF), 2.4, 'Power', .2);

// panel B
(function () {
  const f = frame(1065,17,1682,404,998,443,116);
  const tops = [iTop, rhTop, rmTop, rlTop, s2Top, s1Top];
  // keeps the legend block where the reference has it, clear of the panel
  const legendPlace = {
    id: 'legendPlace',
    afterLayout(c) {
      c.legend.left = c.chartArea.right + 17;
      c.legend.right = c.width;
      c.legend.top = 130;
      c.legend.bottom = c.height;
    }
  };
  const datasets = fractionNames.map((name, i) => ({
    label: name,
    data: points(i === 0 ? iYears : fractionYears, tops[i]),
    showLine: true, fill: 'origin', borderWidth: 0,
    borderColor: bandColors[5 - i], backgroundColor: bandColors[5 - i]
  }));
  const xAxis = ruledAxis(f, [2002.1,2022.97], 2.5, 'Year', '#fff', 'x', v => String(v));
  const yAxis = ruledAxis(f, [-.0507,1.0386], .125, nudge('Fraction Population', 9), '#fff', 'y', v => v.toFixed(2));
  new Chart(f.canvas, {
    type: 'scatter',
    data: { datasets },
    plugins: [{ id: 'panelBg', beforeDraw(c) { const a = c.chartArea; c.ctx.fillStyle = '#EBEBEB'; c.ctx.fillRect(a.left, a.top, a.width, a.height); } }, legendPlace],
    options: {
      layout: { padding: { top: f.padding.top, right: 44, left: 0, bottom: 0 } },
      plugins: {
        tooltip: { enabled: false },
        legend: {
          position: 'right', reverse: true, align: 'start',
          title: { display: true, text: 'Variable', position: 'start', font: { size: 24 }, padding: { bottom: 5 } },
          labels: { boxWidth: 18, boxHeight: 18, padding: 0, font: { size: 20 }, color: '#000' }
        }
      },
      scales: { x: xAxis, y: yAxis }
    }
  });
})();

function waveletChart(box, xExt, yearTicks, xTitle, yTitle, tickPad, bands, blobs, streaks, contours, thin, colors, thick) {
  const f = frame(...box);
  const sets = [];
  const smooth = t => t.length <= 3 ? 0.4 : 0.25;
  const pushLens = (t, top, bot, color) => {
    sets.push({ data: points(t, bot), showLine: true, borderWidth: 0, tension: smooth(t), fill: false, borderColor: color });
    sets.push({ data: points(t, top), showLine: true, borderWidth: 0, tension: smooth(t), fill: '+1', backgroundColor: color, borderColor: color });
  };
  const pushBand = ([level, t, top, bot]) => {
    if (bot) pushLens(t, top, bot, colors[level]);
    else sets.push({ data: points(t, top), showLine: true, borderWidth: 0, tension: .25, fill: 'start', backgroundColor: colors[level], borderColor: colors[level] });
  };
  const pushLine = (t, v, width) => sets.push({ data: points(t, v), showLine: true, borderColor: '#000', borderWidth: width, tension: .25, borderJoinStyle: 'round', borderCapStyle: 'round', fill: false });
  bands.forEach(pushBand);
  blobs.forEach(([t, top, bot]) => pushLens(t, top, bot, '#000'));
  streaks.forEach(pushBand);
  contours.forEach(([t, v]) => pushLine(t, v, thick));
  thin.forEach(([t, v]) => pushLine(t, v, 2));
  new Chart(f.canvas, {
    type: 'scatter',
    data: { datasets: sets.reverse() },
    plugins: [boxPlugin],
    options: {
      layout: { padding: f.padding },
      plugins: { legend: { display: false }, tooltip: { enabled: false }, boxPlugin: { color: '#000', width: 3, inward: 6 } },
      scales: {
        x: {
          type: 'linear', min: xExt[0], max: xExt[1],
          afterBuildTicks(s) { s.ticks = yearTicks.map(value => ({ value })); },
          title: { display: true, text: xTitle, font: { size: TITLE_SIZE }, padding: 0 },
          border: { display: false }, grid: { display: false, drawTicks: false },
          ticks: { autoSkip: false, maxRotation: 0, minRotation: 0, padding: tickPad, font: { size: WAVE_TICK_SIZE }, callback: v => String(v) },
          afterFit(s) { s.height = f.xGutter; }
        },
        y: {
          type: 'linear', min: -5.69, max: 5.33,
          title: { display: true, text: yTitle, font: { size: TITLE_SIZE }, padding: { top: f.extra, bottom: 0 } },
          border: { display: false }, grid: { display: false, drawTicks: false },
          ticks: { stepSize: 1, includeBounds: false, autoSkip: false, padding: 2, font: { size: WAVE_TICK_SIZE }, callback: v => periodLabels[v + 5] },
          afterFit(s) { s.width = f.yGutter; }
        }
      }
    }
  });
}

const fingerEdge = { t: [2003], v: [-2] };
fingerYears.forEach((y, i) => {
  fingerEdge.t.push(y - .18, y, y + .18);
  fingerEdge.v.push(fingerLevels[i], fingerTips[i], fingerLevels[i]);
});
fingerEdge.t.push(2040);
fingerEdge.v.push(-2.9);
const spotBands = spotsC.map(([y, v, w, h]) => [0, [y - w, y, y + w], [v, v + h, v], [v, v - h, v]]);

waveletChart([80,507,902,706,28,743,6], [2003,2040], yearTicksC, nudge('Time (Years)', 11), nudge('Period', 14), 0,
  bandsC.concat([[0, fingerEdge.t, fingerEdge.v]], spotBands), blobsC, streaksC, contoursC, thinLinesC, colorsC, 5.5);
waveletChart([99,962,894,1232,28,1276,6], [2003.09,2022.6], yearTicksE, nudge('Time (Years)', -8), nudge('Period', 6), 4,
  bandsE, blobsE, [], contoursE, thinLinesE, colorsE, 5.5);

function colourBar(l, t, r, b, titleY, labels, titleShift) {
  const side = 48;
  const c = document.createElement('canvas');
  c.width = r - l + 2 * side;
  c.height = Math.round(titleY + TITLE_SIZE * 0.6) - (t - 4);
  c.style.left = (l - side) + 'px';
  c.style.top = (t - 4) + 'px';
  document.body.appendChild(c);
  new Chart(c, {
    type: 'bar',
    data: {
      labels: [''],
      datasets: barColors.map(color => ({ data: [1], backgroundColor: color, borderColor: '#000', borderWidth: 1.5, borderSkipped: false, barPercentage: 1, categoryPercentage: 1 }))
    },
    plugins: [boxPlugin],
    options: {
      indexAxis: 'y',
      layout: { padding: { left: side, right: side, top: 4, bottom: 0 } },
      plugins: { legend: { display: false }, tooltip: { enabled: false }, boxPlugin: { color: '#000', width: 3 } },
      scales: {
        x: {
          stacked: true, min: 0, max: 5,
          title: { display: true, text: nudge('Power\u00B2', titleShift), font: { size: TITLE_SIZE }, padding: 0 },
          border: { display: false }, grid: { display: false, drawTicks: false },
          ticks: { stepSize: 1, autoSkip: false, maxRotation: 0, padding: 3, font: { size: WAVE_TICK_SIZE }, callback: v => labels[v] },
          afterFit(s) { s.height = c.height - (b - t) - 4; }
        },
        y: { stacked: true, display: false }
      }
    }
  });
}
colourBar(80,764,902,787,822,legendC,25);
colourBar(94,1297,906,1337,1377,legendE,11);

addTag('A',9,17); addTag('B',928,17); addTag('C',9,478); addTag('D',928,478);
addTag('E',9,925); addTag('F',1355,478); addTag('G',928,925);
</script>
</body>
</html>
